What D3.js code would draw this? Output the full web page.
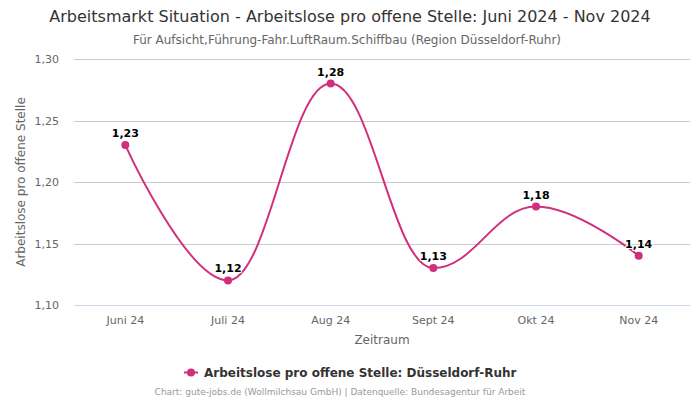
<!DOCTYPE html>
<html><head><meta charset="utf-8">
<script src="https://cdn.jsdelivr.net/npm/d3@7"></script>
<style>body{margin:0;background:#fff;font-family:"DejaVu Sans",sans-serif;}</style>
</head><body><svg id="c" width="700" height="400"></svg>
<script>
const categories = ["Juni 24","Juli 24","Aug 24","Sept 24","Okt 24","Nov 24"];
const values = [1.23,1.12,1.28,1.13,1.18,1.14];
const yTicks = [1.10,1.15,1.20,1.25,1.30];
const seriesName = "Arbeitslose pro offene Stelle: Düsseldorf-Ruhr";
const color = "#d12f7d";

const svg = d3.select("#c");
const L=74,R=690,T=59,B=305;
const x = d3.scalePoint().domain(categories).range([L,R]).padding(0.5);
const y = d3.scaleLinear().domain([1.10,1.30]).range([B,T]);
const fmt = v => d3.format(".2f")(v).replace(".",",");

// Highcharts-like spline curve
function HCSpline(context){this._context=context;}
HCSpline.prototype={
  areaStart(){},areaEnd(){},
  lineStart(){this._pts=[];},
  point(px,py){this._pts.push([px,py]);},
  lineEnd(){
    const p=this._pts,ctx=this._context,s=1.5,d=2.5;
    if(!p.length)return;
    const rc=p.map(q=>[q[0],q[1]]), lc=p.map(q=>[q[0],q[1]]);
    for(let i=1;i<p.length-1;i++){
      const [lx,ly]=p[i-1],[px,py]=p[i],[nx,ny]=p[i+1];
      let lcx=(s*px+lx)/d,lcy=(s*py+ly)/d,rcx=(s*px+nx)/d,rcy=(s*py+ny)/d;
      let corr=0;
      if(rcx!==lcx) corr=((rcy-lcy)*(rcx-px))/(rcx-lcx)+py-rcy;
      lcy+=corr;rcy+=corr;
      if(lcy>ly&&lcy>py){lcy=Math.max(ly,py);rcy=2*py-lcy;}
      else if(lcy<ly&&lcy<py){lcy=Math.min(ly,py);rcy=2*py-lcy;}
      if(rcy>ny&&rcy>py){rcy=Math.max(ny,py);lcy=2*py-rcy;}
      else if(rcy<ny&&rcy<py){rcy=Math.min(ny,py);lcy=2*py-rcy;}
      lc[i]=[lcx,lcy];rc[i]=[rcx,rcy];
    }
    ctx.moveTo(p[0][0],p[0][1]);
    for(let i=1;i<p.length;i++){
      ctx.bezierCurveTo(rc[i-1][0],rc[i-1][1],lc[i][0],lc[i][1],p[i][0],p[i][1]);
    }
  }
};
const hcSpline = ctx => new HCSpline(ctx);

// grid
svg.append("g").selectAll("line").data(yTicks).join("line")
  .attr("x1",L).attr("x2",R).attr("y1",d=>Math.round(y(d))+0.5).attr("y2",d=>Math.round(y(d))+0.5)
  .attr("stroke",d=>d===1.10?"#ccd6eb":"#cccccc").attr("stroke-width",1);

// y labels
svg.append("g").selectAll("text").data(yTicks).join("text")
  .attr("x",59).attr("y",d=>y(d)+4).attr("text-anchor","end")
  .attr("font-size",11).attr("fill","#666").text(fmt);

// x labels
svg.append("g").selectAll("text").data(categories).join("text")
  .attr("x",d=>x(d)).attr("y",324).attr("text-anchor","middle")
  .attr("font-size",11).attr("fill","#666").text(d=>d);

// axis titles
svg.append("text").attr("x",(L+R)/2).attr("y",344).attr("text-anchor","middle")
  .attr("font-size",12).attr("fill","#666").text("Zeitraum");
svg.append("text").attr("transform",`translate(25,${(T+B)/2}) rotate(-90)`).attr("text-anchor","middle")
  .attr("font-size",12).attr("fill","#666").text("Arbeitslose pro offene Stelle");

// title
svg.append("text").attr("x",350).attr("y",22).attr("text-anchor","middle")
  .attr("font-size",16).attr("fill","#333").text("Arbeitsmarkt Situation - Arbeitslose pro offene Stelle: Juni 2024 - Nov 2024");
svg.append("text").attr("x",347).attr("y",44).attr("text-anchor","middle")
  .attr("font-size",12).attr("fill","#666").text("Für Aufsicht,Führung-Fahr.LuftRaum.Schiffbau (Region Düsseldorf-Ruhr)");

// line
const line = d3.line().x((d,i)=>x(categories[i])).y(d=>y(d)).curve(hcSpline);
svg.append("path").datum(values).attr("d",line).attr("fill","none")
  .attr("stroke",color).attr("stroke-width",2);

svg.append("g").selectAll("circle").data(values).join("circle")
  .attr("cx",(d,i)=>x(categories[i])).attr("cy",d=>y(d)).attr("r",4).attr("fill",color);

// data labels
svg.append("g").selectAll("text").data(values).join("text")
  .attr("x",(d,i)=>x(categories[i])).attr("y",d=>y(d)-8).attr("text-anchor","middle")
  .attr("font-size",11).attr("font-weight","bold").attr("fill","#000")
  .attr("stroke","#fff").attr("stroke-width",2).attr("paint-order","stroke").attr("stroke-linejoin","round")
  .text(fmt);

// legend
const lg = svg.append("g");
lg.append("line").attr("x1",184).attr("x2",198).attr("y1",372.5).attr("y2",372.5).attr("stroke",color).attr("stroke-width",2);
lg.append("circle").attr("cx",191).attr("cy",372.5).attr("r",4).attr("fill",color);
lg.append("text").attr("x",204).attr("y",377).attr("font-size",12).attr("font-weight","bold").attr("fill","#333").text(seriesName);

// credits
svg.append("text").attr("x",340).attr("y",395).attr("text-anchor","middle")
  .attr("font-size",9).attr("fill","#999").text("Chart: gute-jobs.de (Wollmilchsau GmbH) | Datenquelle: Bundesagentur für Arbeit");
</script></body></html>
